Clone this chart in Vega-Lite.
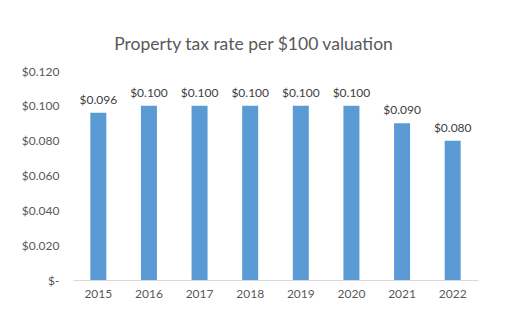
{
  "$schema": "https://vega.github.io/schema/vega-lite/v6.json",
  "autosize": "none",
  "width": 405,
  "height": 209,
  "padding": {"left": 73, "top": 71, "right": 48, "bottom": 42},
  "background": "white",
  "config": {"view": {"stroke": null}, "font": "Lato"},
  "title": {"text": "Property tax rate per $100 valuation", "fontSize": 17.5, "fontWeight": "normal", "color": "#595959", "font": "Lato", "anchor": "middle", "dx": -22, "offset": 12},
  "data": {"values": [
    {"year": "2015", "rate": 0.096},
    {"year": "2016", "rate": 0.100},
    {"year": "2017", "rate": 0.100},
    {"year": "2018", "rate": 0.100},
    {"year": "2019", "rate": 0.100},
    {"year": "2020", "rate": 0.100},
    {"year": "2021", "rate": 0.090},
    {"year": "2022", "rate": 0.080}
  ]},
  "encoding": {
    "x": {"field": "year", "type": "nominal", "scale": {"paddingInner": 0.684, "paddingOuter": 0.342},
      "axis": {"title": null, "labelAngle": 0, "ticks": false, "domainColor": "#D9D9D9", "labelColor": "#595959", "labelFontSize": 12, "labelPadding": 8}},
    "y": {"field": "rate", "type": "quantitative", "scale": {"domain": [0, 0.12]},
      "axis": {"title": null, "values": [0, 0.02, 0.04, 0.06, 0.08, 0.1, 0.12], "grid": false, "domain": false, "ticks": false, "labelColor": "#595959", "labelFontSize": 12, "labelPadding": 14, "labelExpr": "datum.value == 0 ? '$-' : format(datum.value, '$.3f')"}}
  },
  "layer": [
    {"mark": {"type": "bar", "color": "#5B9BD5"}},
    {"mark": {"type": "text", "dy": -6, "fontSize": 12, "color": "#404040", "baseline": "bottom"}, "encoding": {"text": {"field": "rate", "type": "quantitative", "format": "$.3f"}}}
  ]
}
